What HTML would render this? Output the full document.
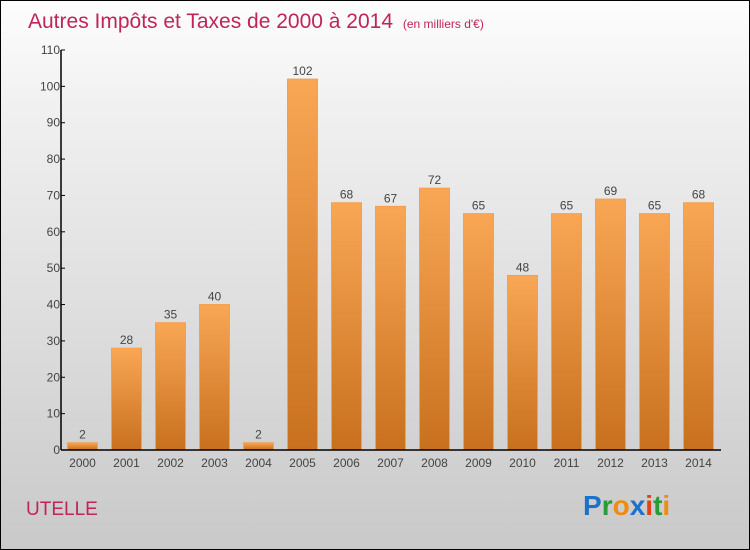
<!DOCTYPE html>
<html><head><meta charset="utf-8"><style>
body{margin:0;}
#c{position:relative;width:748px;height:548px;border:1px solid #000;background:linear-gradient(#fdfdfd,#f0f0f0 20%,#c9c9c9);font-family:"Liberation Sans",sans-serif;overflow:hidden}
</style></head><body>
<div id="c">
<svg width="748" height="548">
<defs><linearGradient id="g" x1="0" y1="0" x2="0" y2="1"><stop offset="0" stop-color="#f9a755"/><stop offset="1" stop-color="#c8701d"/></linearGradient></defs>
<text x="27" y="27" font-size="21" fill="#c0245a">Autres Impôts et Taxes de 2000 à 2014 <tspan font-size="12" dx="4">(en milliers d'€)</tspan></text>
<g id="plot"></g>
<text x="25" y="514" font-size="19" fill="#c0245a">UTELLE</text>
<text x="582" y="514" font-size="28" font-weight="bold"><tspan fill="#1a73c8">P</tspan><tspan fill="#2a9a3a">r</tspan><tspan fill="#f08a10">o</tspan><tspan fill="#1a73c8">x</tspan><tspan fill="#e84010">i</tspan><tspan fill="#2a9a3a">t</tspan><tspan fill="#f08a10">i</tspan></text>
</svg></div>
<script>
const categories=["2000","2001","2002","2003","2004","2005","2006","2007","2008","2009","2010","2011","2012","2013","2014"];
const values=[2,28,35,40,2,102,68,67,72,65,48,65,69,65,68];
const ticks=[0,10,20,30,40,50,60,70,80,90,100,110];
const NS="http://www.w3.org/2000/svg";
const g=document.getElementById('plot');
const y0=449,ppu=400/110,x0=60;
const y=v=>y0-v*ppu;
const xc=i=>81.5+i*44;
function mk(t,a){const e=document.createElementNS(NS,t);for(const k in a)e.setAttribute(k,a[k]);g.appendChild(e);return e;}
categories.forEach((c,i)=>{
 const r=mk('rect',{x:xc(i)-15,y:y(values[i]),width:30,height:values[i]*ppu,fill:'url(#g)',stroke:'#f4a050','stroke-width':1});
 
 
 const l=mk('text',{x:xc(i),y:y(values[i])-4,'text-anchor':'middle','font-size':12,fill:'#444'});
 l.textContent=values[i];
 
 
 const t=mk('text',{x:xc(i),y:466,'text-anchor':'middle','font-size':12,fill:'#444'});
 t.textContent=c;
 
 
});
ticks.forEach(v=>{
 const tk=mk('line',{x1:x0,x2:x0+4,y1:y(v),y2:y(v),stroke:'#000'});
 
 
 const t=mk('text',{x:x0-1,y:y(v)+4,'text-anchor':'end','font-size':12,fill:'#444'});
 t.textContent=v;
 
 
});
const ya=mk('line',{x1:x0,x2:x0,y1:y(110),y2:y0,stroke:'#000','stroke-width':1.5});


const xa=mk('line',{x1:x0,x2:720,y1:y0,y2:y0,stroke:'#000','stroke-width':1.5});


</script>
</body></html>
